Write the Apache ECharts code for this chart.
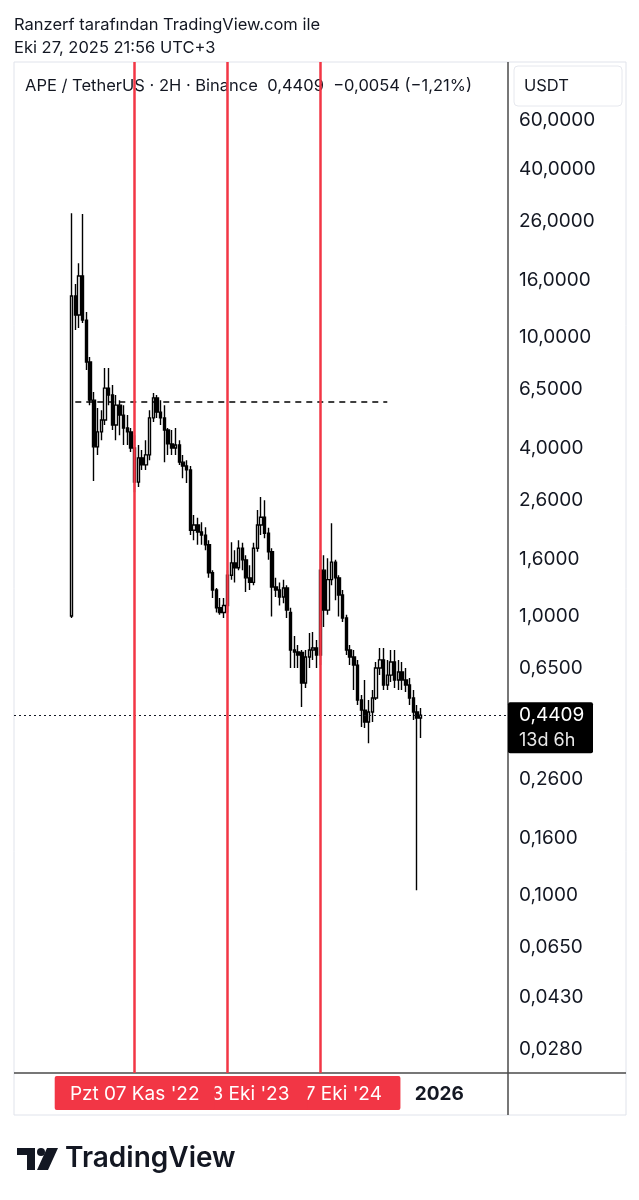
<!DOCTYPE html>
<html><head><meta charset="utf-8">
<script src="https://cdn.jsdelivr.net/npm/echarts@6/dist/echarts.min.js"></script>
<style>html,body{margin:0;padding:0;background:#fff;}#c{width:639px;height:1200px;}</style>
</head><body><div id="c"></div>
<script>
// ---- data (2-week candles, APE/USDT) ----
const startDate = '2022-03-14';
const padBefore = 15, padAfter = 23;
const opens = [1.00,14.03,11.99,16.55,11.50,8.14,5.94,4.04,4.57,5.04,6.56,6.20,4.84,5.70,5.25,4.72,4.57,4.00,3.02,3.69,3.48,3.78,5.13,6.05,5.38,5.13,4.64,4.14,4.00,4.10,3.56,3.45,3.34,2.03,2.12,2.00,1.95,1.80,1.43,1.24,1.07,1.03,1.09,1.40,1.55,1.49,1.75,1.59,1.37,1.32,1.75,2.12,2.26,1.98,1.70,1.27,1.24,1.17,1.26,1.03,0.755,0.743,0.740,0.575,0.713,0.755,0.768,0.725,1.46,1.05,1.35,1.56,1.37,1.19,0.984,0.755,0.713,0.667,0.500,0.460,0.417,0.453,0.508,0.651,0.696,0.566,0.614,0.684,0.590,0.630,0.590,0.566,0.508,0.453,0.431];
const closes = [14.03,11.99,16.55,11.50,8.14,5.94,4.04,4.57,5.04,6.56,6.20,4.84,5.70,5.25,4.72,4.57,4.00,3.02,3.69,3.48,3.78,5.13,6.05,5.38,5.13,4.64,4.14,4.00,4.10,3.56,3.45,3.34,2.03,2.12,2.00,1.95,1.80,1.43,1.24,1.07,1.03,1.09,1.40,1.55,1.49,1.75,1.59,1.37,1.32,1.75,2.12,2.26,1.98,1.70,1.27,1.24,1.17,1.26,1.05,0.755,0.743,0.725,0.575,0.713,0.755,0.768,0.725,1.46,1.05,1.35,1.56,1.37,1.19,0.984,0.755,0.713,0.667,0.500,0.460,0.417,0.453,0.508,0.651,0.696,0.566,0.614,0.684,0.590,0.630,0.590,0.566,0.508,0.453,0.431,0.4409];
const highs = [27.8,15.49,18.4,27.6,12.29,8.48,6.35,5.57,5.47,7.74,7.74,6.73,6.20,5.94,5.70,5.25,4.72,4.45,4.10,3.94,4.27,5.47,6.30,6.20,5.94,5.70,4.72,4.64,4.72,4.27,3.78,3.62,3.45,2.30,2.25,2.17,2.08,1.87,1.46,1.26,1.16,1.16,1.46,1.84,1.72,1.87,1.83,1.65,1.52,1.83,2.40,2.67,2.60,2.07,1.75,1.37,1.32,1.35,1.29,1.07,0.848,0.787,0.755,0.755,0.869,0.876,0.820,1.72,1.65,1.61,2.15,1.59,1.40,1.24,1.01,0.787,0.755,0.696,0.521,0.590,0.500,0.543,0.684,0.768,0.768,0.696,0.755,0.755,0.696,0.684,0.651,0.600,0.543,0.480,0.468];
const lows = [0.984,10.60,10.77,11.22,7.62,5.70,3.05,3.78,4.27,4.84,5.70,4.64,4.27,4.45,4.10,4.10,3.87,2.78,2.90,3.34,3.34,3.62,4.96,5.13,4.84,3.56,3.78,3.78,3.78,3.48,3.12,3.00,1.95,1.87,1.80,1.80,1.72,1.37,1.16,1.03,1.01,0.984,1.03,1.35,1.32,1.46,1.46,1.22,1.24,1.29,1.70,1.95,1.90,1.59,0.995,1.17,1.09,1.11,0.984,0.651,0.651,0.651,0.472,0.552,0.651,0.696,0.651,0.667,0.913,1.01,1.29,1.14,0.995,0.952,0.725,0.667,0.543,0.480,0.400,0.397,0.350,0.417,0.500,0.614,0.543,0.543,0.580,0.552,0.543,0.543,0.534,0.480,0.424,0.104,0.365];
const yTicks = [60,40,26,16,10,6.5,4,2.6,1.6,1,0.65,0.26,0.16,0.1,0.065,0.043,0.028];
const lastPrice = 0.4409;
const dashedLevel = 5.85;
const dashedFrom = '2022-03-28', dashedTo = '2025-06-16';
const markerDates = ['2022-11-07','2023-10-23','2024-10-07'];
const markerLabels = ["Pzt 07 Kas '22","Pzt 23 Eki '23","Pzt 07 Eki '24"];
const yearDate = '2025-12-29', yearText = '2026';

// ---- categories ----
const DAY = 86400000;
const t0 = Date.parse(startDate + 'T00:00:00Z');
const allDates = [];
for (let k = -padBefore; k < opens.length + padAfter; k++) {
  allDates.push(new Date(t0 + k * 14 * DAY).toISOString().slice(0, 10));
}
const candleData = opens.map((o, i) => [allDates[i + padBefore], o, closes[i], lows[i], highs[i]]);

const FONT = 'Inter, "Noto Sans", sans-serif';
const INK = '#131722';
const RED = '#f23645';
const fmt = v => v.toFixed(4).replace('.', ',');

const chart = echarts.init(document.getElementById('c'));
chart.setOption({
  animation: false,
  backgroundColor: '#fff',
  grid: { left: 14, right: 131, top: 62, bottom: 127 },
  xAxis: { type: 'category', data: allDates, boundaryGap: true,
    axisLine: { show: false }, axisTick: { show: false }, axisLabel: { show: false }, splitLine: { show: false } },
  yAxis: { type: 'log', logBase: 10, min: 0.02301, max: 96.8, position: 'right',
    axisLine: { show: false }, axisTick: { show: false }, axisLabel: { show: false }, splitLine: { show: false } },
  series: [{
    type: 'candlestick',
    data: candleData,
    encode: { x: 0, y: [1, 2, 3, 4] },
    barWidth: 3,
    itemStyle: { color: '#ffffff', color0: '#000000', borderColor: '#000000', borderColor0: '#000000', borderWidth: 1.4 },
    markLine: {
      silent: true, symbol: ['none', 'none'], label: { show: false }, animation: false,
      data: [
        { yAxis: lastPrice, lineStyle: { color: INK, type: [2, 3], width: 1 } },
        [ { coord: [allDates.indexOf(dashedFrom), dashedLevel], lineStyle: { color: '#000', type: [6, 5], width: 1.5 } },
          { coord: [allDates.indexOf(dashedTo), dashedLevel] } ],
        ...markerDates.map(d => ({ xAxis: d, lineStyle: { color: RED, type: 'solid', width: 2.5 } }))
      ]
    }
  }]
});

const yPix = v => chart.convertToPixel({ yAxisIndex: 0 }, v);
const xPix = d => chart.convertToPixel({ xAxisIndex: 0 }, allDates.indexOf(d));

const g = [];
// header
g.push({ type: 'text', x: 14, y: 25, z: 0, style: { text: 'Ranzerf tarafından TradingView.com ile', font: '16.5px ' + FONT, fill: INK, verticalAlign: 'middle' } });
g.push({ type: 'text', x: 14, y: 48, z: 0, style: { text: 'Eki 27, 2025 21:56 UTC+3', font: '16.5px ' + FONT, fill: INK, verticalAlign: 'middle' } });
// pane frame
g.push({ type: 'rect', z: 0, shape: { x: 14, y: 62, width: 612, height: 1053 }, style: { fill: 'none', stroke: '#e0e3eb', lineWidth: 1 } });
g.push({ type: 'line', z: 0, shape: { x1: 508, y1: 62, x2: 508, y2: 1115 }, style: { stroke: '#4a4a4a', lineWidth: 1.5 } });
g.push({ type: 'line', z: 0, shape: { x1: 14, y1: 1073, x2: 626, y2: 1073 }, style: { stroke: '#4a4a4a', lineWidth: 1.5 } });
// title
g.push({ type: 'text', x: 25, y: 86, z: 0, style: { text: 'APE / TetherUS · 2H · Binance  0,4409  −0,0054 (−1,21%)', font: '16.5px ' + FONT, fill: INK, verticalAlign: 'middle' } });
// USDT box
g.push({ type: 'rect', z: 0, shape: { x: 514, y: 66, width: 108, height: 40, r: 4 }, style: { fill: '#fff', stroke: '#e6e8ee', lineWidth: 1 } });
g.push({ type: 'text', x: 524, y: 86, z: 1, style: { text: 'USDT', font: '16.5px ' + FONT, fill: INK, verticalAlign: 'middle' } });
// y tick labels
yTicks.forEach(v => {
  g.push({ type: 'text', x: 519, y: yPix(v), z: 1, style: { text: fmt(v), font: '19px ' + FONT, fill: INK, verticalAlign: 'middle' } });
});
// last price label
const py = yPix(lastPrice);
g.push({ type: 'rect', z: 5, shape: { x: 508, y: py - 13, width: 85, height: 51, r: 2 }, style: { fill: '#000' } });
g.push({ type: 'text', x: 519, y: py, z: 6, style: { text: fmt(lastPrice), font: '19px ' + FONT, fill: '#fff', verticalAlign: 'middle' } });
g.push({ type: 'text', x: 519, y: py + 25, z: 6, style: { text: '13d 6h', font: '18px ' + FONT, fill: '#e8e8e8', verticalAlign: 'middle' } });
// time labels (later ones underneath)
for (let i = markerDates.length - 1; i >= 0; i--) {
  const cx = xPix(markerDates[i]);
  g.push({ type: 'rect', z: 10 + (markerDates.length - i) * 2, shape: { x: cx - 80, y: 1076, width: 160, height: 34, r: 2 }, style: { fill: RED } });
  g.push({ type: 'text', x: cx, y: 1094, z: 11 + (markerDates.length - i) * 2, style: { text: markerLabels[i], font: '19px ' + FONT, fill: '#fff', align: 'center', verticalAlign: 'middle' } });
}
g.push({ type: 'text', x: xPix(yearDate), y: 1094, z: 5, style: { text: yearText, font: 'bold 19px ' + FONT, fill: INK, align: 'center', verticalAlign: 'middle' } });
// logo
g.push({ type: 'rect', z: 5, shape: { x: 17, y: 1148, width: 18, height: 7 }, style: { fill: INK } });
g.push({ type: 'rect', z: 5, shape: { x: 27, y: 1148, width: 8, height: 22 }, style: { fill: INK } });
g.push({ type: 'circle', z: 5, shape: { cx: 41, cy: 1152, r: 4 }, style: { fill: INK } });
g.push({ type: 'polygon', z: 5, shape: { points: [[47, 1148], [58, 1148], [48, 1170], [37, 1170]] }, style: { fill: INK } });
g.push({ type: 'text', x: 65, y: 1159, z: 5, style: { text: 'TradingView', font: '600 28px ' + FONT, fill: INK, verticalAlign: 'middle' } });

chart.setOption({ graphic: g });
</script>
</body></html>
